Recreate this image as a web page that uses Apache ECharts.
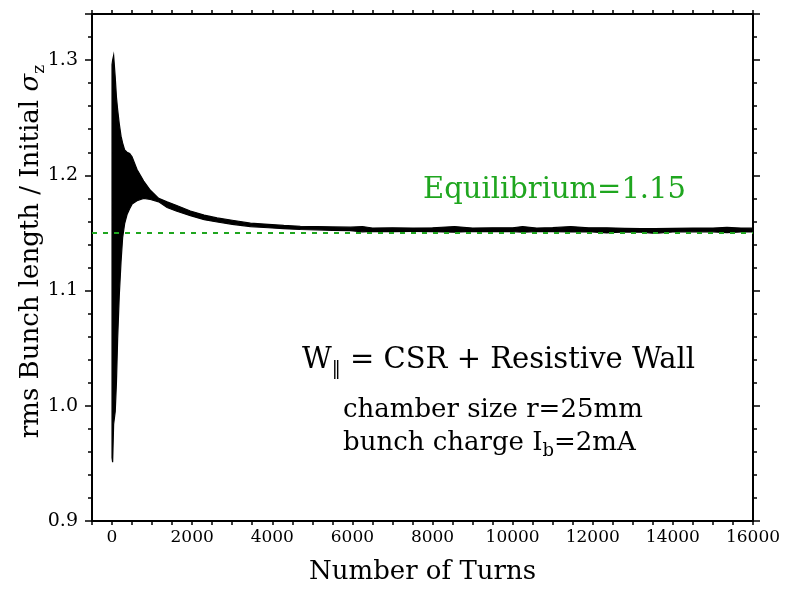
<!DOCTYPE html>
<html><head><meta charset="utf-8">
<script src="https://cdn.jsdelivr.net/npm/echarts@6/dist/echarts.min.js"></script>
<style>html,body{margin:0;padding:0;background:#fff}#c{width:785px;height:590px}</style>
</head><body><div id="c"></div>
<script>
// ---- data ----
const turns = [0,15,40,80,110,140,180,225,265,315,375,440,500,624,790,957,1165,1374,1600,1956,2300,2623,3000,3455,3900,4287,4700,5120,5500,5952,6250,6500,7000,7500,8000,8550,9000,9500,10000,10250,10600,11000,11450,11900,12350,12800,13200,13550,14000,14500,15000,15350,15700,16000];
const upperEnv = [1.296,1.300,1.304,1.285,1.268,1.257,1.245,1.234,1.228,1.222,1.220,1.219,1.216,1.205,1.195,1.187,1.180,1.177,1.174,1.169,1.1655,1.163,1.161,1.1585,1.1575,1.1565,1.1558,1.1555,1.1552,1.1550,1.1556,1.1543,1.1544,1.1542,1.1545,1.1555,1.1543,1.1544,1.1545,1.1555,1.1543,1.1546,1.1556,1.1544,1.1545,1.1540,1.1538,1.1537,1.1540,1.1542,1.1543,1.1548,1.1542,1.1541];
const lowerEnv = [0.955,0.951,0.984,0.995,1.020,1.058,1.095,1.125,1.146,1.158,1.166,1.171,1.175,1.178,1.180,1.179,1.177,1.172,1.169,1.165,1.1615,1.1595,1.1575,1.1555,1.1545,1.1537,1.1530,1.1527,1.1523,1.1520,1.1510,1.1513,1.1512,1.1513,1.1511,1.1507,1.1513,1.1511,1.1512,1.1506,1.1512,1.1511,1.1508,1.1511,1.1500,1.1508,1.1506,1.1497,1.1508,1.1510,1.1510,1.1502,1.1509,1.1509];
const xTickLabels = [0,2000,4000,6000,8000,10000,12000,14000,16000];
const yTickLabels = [0.9,1.0,1.1,1.2,1.3];
const equilibrium = 1.152;
const equilibriumText = 'Equilibrium=1.15';
const xTitle = 'Number of Turns';
const yTitleMain = 'rms Bunch length / Initial ';
const noteLine1 = ['W', '‖', ' = CSR + Resistive Wall'];
const noteLine2 = 'chamber size r=25mm';
const noteLine3 = ['bunch charge I', 'b', '=2mA'];

// ---- chart ----
const FONT = 'DejaVu Serif';
const GREEN = '#1fa61f';
const axisLine = {show:true, onZero:false, lineStyle:{color:'#000', width:2}};
function xAx(pos, labels){
  return {
    type:'value', position:pos, min:-500, max:16000, interval:500,
    axisLine, splitLine:{show:false},
    axisTick:{show:true, inside:false, length:4, lineStyle:{color:'#000', width:1.5}},
    axisLabel: labels ? {show:true, color:'#000', fontFamily:FONT, fontSize:17, margin:8,
      formatter: v => xTickLabels.includes(v) ? String(v) : ''} : {show:false}
  };
}
function yAx(pos, major, labels){
  return {
    type:'value', position:pos, min:0.9, max:1.34, interval: major ? 0.1 : 0.02,
    axisLine, splitLine:{show:false},
    axisTick:{show:true, inside:false, length: major ? 7 : 4, lineStyle:{color:'#000', width:1.5}},
    axisLabel: labels ? {show:true, color:'#000', fontFamily:FONT, fontSize:19, margin:14,
      formatter: v => yTickLabels.some(t => Math.abs(t - v) < 1e-9) ? v.toFixed(1) : ''} : {show:false}
  };
}
const xBottom = Object.assign(xAx('bottom', true), {
  name: xTitle, nameLocation:'middle', nameGap:38, nameMoveOverlap:false,
  nameTextStyle:{color:'#000', fontFamily:FONT, fontSize:26}
});
const yLeft = Object.assign(yAx('left', true, true), {
  name: '{a|' + yTitleMain + '}{g|σ}{s|z}', nameLocation:'middle', nameGap:44, nameMoveOverlap:false,
  nameTextStyle:{color:'#000', fontFamily:FONT, fontSize:26, padding:[0,0,0,32],
    rich:{
      a:{fontFamily:FONT, fontSize:26, lineHeight:34, color:'#000'},
      g:{fontFamily:FONT, fontSize:26, lineHeight:34, fontStyle:'italic', color:'#000'},
      s:{fontFamily:FONT, fontSize:17, lineHeight:12, verticalAlign:'bottom', color:'#000'}
    }}
});

const envData = turns.map((t,i)=>[t, lowerEnv[i], upperEnv[i]]);

function renderBand(params, api){
  if (params.dataIndex !== 0) return null;
  const pts = [];
  for (let i = 0; i < envData.length; i++) pts.push(api.coord([envData[i][0], envData[i][2]]));
  for (let i = envData.length - 1; i >= 0; i--) pts.push(api.coord([envData[i][0], envData[i][1]]));
  return {type:'polygon', shape:{points:pts}, style:{fill:'#000', stroke:'#000', lineWidth:1.2}};
}

const chart = echarts.init(document.getElementById('c'), null, {renderer:'canvas'});
chart.setOption({
  animation:false,
  backgroundColor:'#fff',
  grid:{left:92, right:32, top:14, bottom:68},
  xAxis:[xBottom, xAx('top', false)],
  yAxis:[yLeft, yAx('left', false, false), yAx('right', true, false), yAx('right', false, false)],
  series:[
    {type:'custom', coordinateSystem:'cartesian2d', xAxisIndex:0, yAxisIndex:0, clip:true,
      encode:{x:0, y:[1,2]}, data: envData, renderItem: renderBand, z:2},
    {type:'line', xAxisIndex:0, yAxisIndex:0, data:[], z:5, markLine:{silent:true, symbol:'none', label:{show:false},
      lineStyle:{color:GREEN, type:[5,6], width:2}, data:[{yAxis: equilibrium}]}}
  ],
  graphic:[
    {type:'text', z:100, x:423, y:190, style:{text:equilibriumText, fontFamily:FONT, fontSize:29, fill:GREEN, align:'left', verticalAlign:'middle'}},
    {type:'text', z:100, x:302, y:360, style:{
      text:'{m|'+noteLine1[0]+'}{s|'+noteLine1[1]+'}{m|'+noteLine1[2]+'}',
      align:'left', verticalAlign:'middle',
      rich:{m:{fontFamily:FONT, fontSize:29, lineHeight:36, fill:'#000'},
            s:{fontFamily:FONT, fontSize:18, lineHeight:12, verticalAlign:'bottom', fill:'#000'}}}},
    {type:'text', z:100, x:343, y:410, style:{text:noteLine2, fontFamily:FONT, fontSize:26, fill:'#000', align:'left', verticalAlign:'middle'}},
    {type:'text', z:100, x:343, y:443, style:{
      text:'{m|'+noteLine3[0]+'}{s|'+noteLine3[1]+'}{m|'+noteLine3[2]+'}',
      align:'left', verticalAlign:'middle',
      rich:{m:{fontFamily:FONT, fontSize:26, lineHeight:34, fill:'#000'},
            s:{fontFamily:FONT, fontSize:18, lineHeight:12, verticalAlign:'bottom', fill:'#000'}}}}
  ]
});
</script></body></html>
